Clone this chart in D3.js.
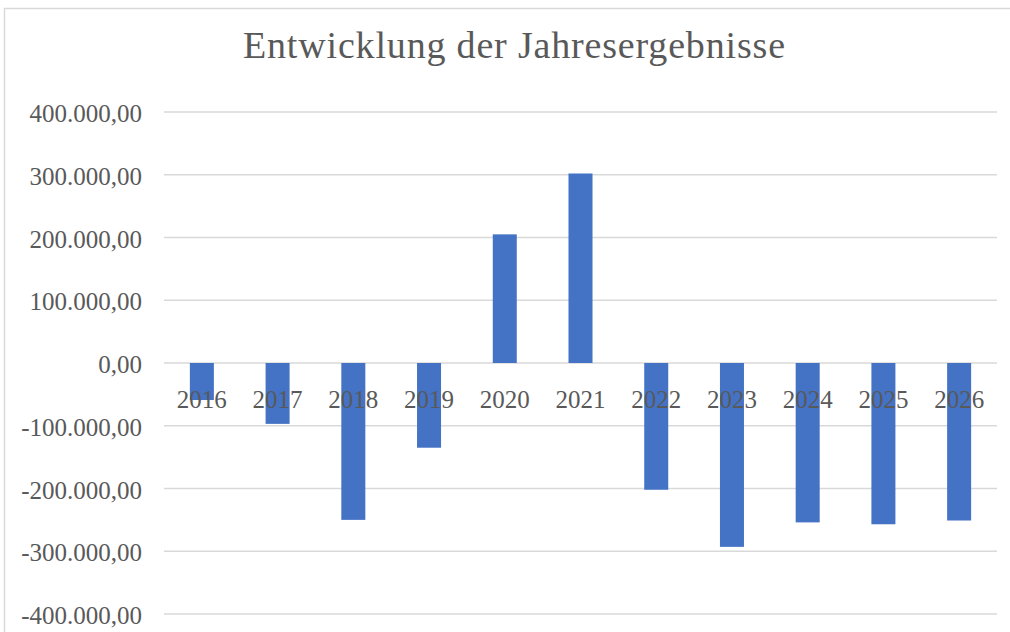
<!DOCTYPE html>
<html><head><meta charset="utf-8">
<script src="https://cdn.jsdelivr.net/npm/d3@7"></script>
<style>html,body{margin:0;padding:0;background:#fff;}svg{display:block;}</style>
</head><body>
<svg id="c" width="1010" height="632"></svg>
<script>
const categories = ["2016","2017","2018","2019","2020","2021","2022","2023","2024","2025","2026"];
const values = [-59000,-97000,-250000,-135000,205000,302000,-202000,-293000,-254000,-257000,-251000];
const yTicks = [400000,300000,200000,100000,0,-100000,-200000,-300000,-400000];
const title = "Entwicklung der Jahresergebnisse";

const svg = d3.select("#c");
const font = "'Liberation Serif', 'DejaVu Serif', serif";
const textColor = "#595959";

// chart border
svg.append("rect").attr("x",4.5).attr("y",8.5).attr("width",1100).attr("height",700)
  .attr("fill","none").attr("stroke","#d9d9d9").attr("stroke-width",1.5);

const x = d3.scaleBand().domain(categories).range([164,997]).paddingInner(0.683).paddingOuter(0.3415);
const y = d3.scaleLinear().domain([-400000,400000]).range([614,112]);

const fmt = v => {
  const s = d3.format(",.2f")(v);
  return s.replace(/,/g,"#").replace(/\./g,",").replace(/#/g,".").replace("−","-");
};

// gridlines
svg.append("g").selectAll("line").data(yTicks).join("line")
  .attr("x1",164).attr("x2",997)
  .attr("y1",d=>y(d)).attr("y2",d=>y(d))
  .attr("stroke","#d9d9d9").attr("stroke-width",1.6);

// y labels
svg.append("g").selectAll("text").data(yTicks).join("text")
  .attr("x",142).attr("y",d=>y(d)+10)
  .attr("text-anchor","end")
  .attr("font-family",font).attr("font-size",25).attr("fill",textColor)
  .text(d=>fmt(d));

// bars
svg.append("g").selectAll("rect").data(categories.map((c,i)=>({c,v:values[i]}))).join("rect")
  .attr("x",d=>x(d.c)).attr("width",x.bandwidth())
  .attr("y",d=>Math.min(y(d.v),y(0)))
  .attr("height",d=>Math.abs(y(d.v)-y(0)))
  .attr("fill","#4472C4");

// category labels
svg.append("g").selectAll("text").data(categories).join("text")
  .attr("x",d=>x(d)+x.bandwidth()/2).attr("y",y(0)+44.5)
  .attr("text-anchor","middle")
  .attr("font-family",font).attr("font-size",25).attr("fill",textColor)
  .text(d=>d);

// title
svg.append("text").attr("x",514).attr("y",58).attr("text-anchor","middle")
  .attr("font-family",font).attr("font-size",38).attr("fill",textColor)
  .attr("textLength",542).attr("lengthAdjust","spacing")
  .text(title);
</script>
</body></html>
